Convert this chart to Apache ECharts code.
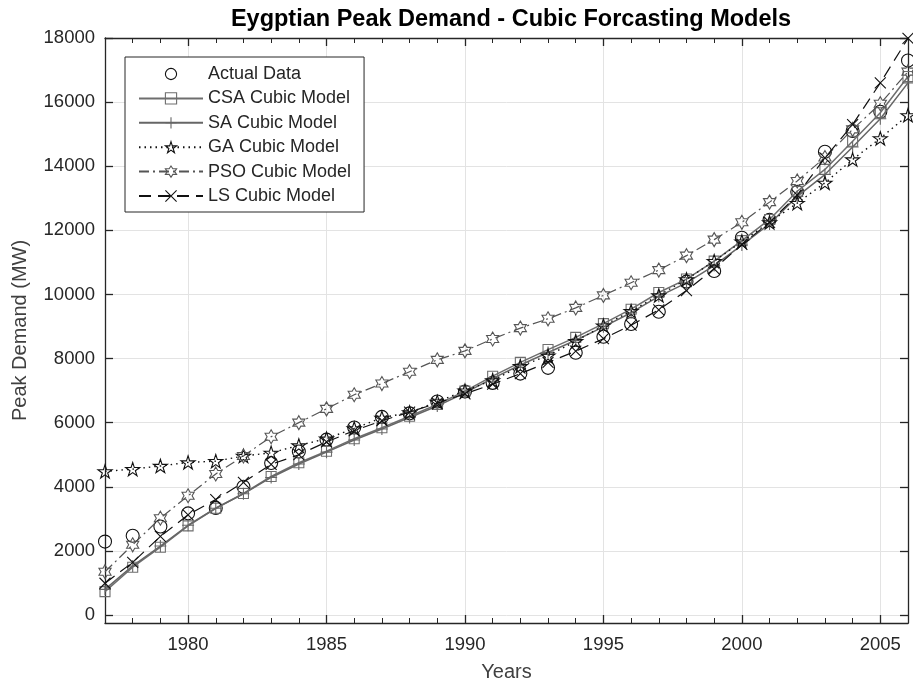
<!DOCTYPE html>
<html>
<head>
<meta charset="utf-8">
<title>Eygptian Peak Demand</title>
<script src="https://cdn.jsdelivr.net/npm/echarts@6/dist/echarts.min.js"></script>
<style>
  html, body { margin: 0; padding: 0; background: #fff; }
  #chart { width: 913px; height: 689px; }
</style>
</head>
<body>
<div id="chart"></div>
<script>
// years on the x axis
var years = [1977, 1978, 1979, 1980, 1981, 1982, 1983, 1984, 1985, 1986,
  1987, 1988, 1989, 1990, 1991, 1992, 1993, 1994, 1995, 1996,
  1997, 1998, 1999, 2000, 2001, 2002, 2003, 2004, 2005, 2006]

// peak demand (MW)
var actualData = [2290, 2470, 2760, 3170, 3340, 4000, 4740, 5100, 5470, 5850,
  6180, 6290, 6660, 6970, 7240, 7530, 7710, 8180, 8680, 9080,
  9460, 10400, 10730, 11770, 12330, 13200, 14450, 15100, 15700, 17300]
var csaModel = [730, 1490, 2115, 2780, 3330, 3790, 4320, 4750, 5110, 5500,
  5840, 6200, 6570, 6985, 7450, 7880, 8280, 8660, 9090, 9540,
  10060, 10480, 11040, 11680, 12340, 13220, 13900, 14780, 15670, 16800]
var saModel = [800, 1530, 2150, 2800, 3330, 3780, 4290, 4710, 5080, 5460,
  5800, 6160, 6520, 6930, 7380, 7800, 8190, 8570, 8990, 9430,
  9940, 10360, 10900, 11540, 12200, 13060, 13740, 14600, 15480, 16600]
var gaModel = [4480, 4550, 4650, 4760, 4800, 4960, 5060, 5290, 5500, 5820,
  6150, 6320, 6650, 7000, 7320, 7760, 8090, 8540, 9030, 9480,
  9970, 10470, 11040, 11650, 12250, 12850, 13480, 14210, 14870, 15590]
var psoModel = [1350, 2190, 3020, 3720, 4400, 4960, 5560, 6000, 6430, 6870,
  7220, 7590, 7960, 8240, 8610, 8950, 9240, 9580, 9970, 10365,
  10760, 11210, 11710, 12250, 12880, 13540, 14270, 15150, 15950, 16950]
var lsModel = [990, 1640, 2450, 3125, 3600, 4140, 4700, 5000, 5400, 5750,
  6060, 6330, 6610, 6900, 7200, 7530, 7880, 8230, 8620, 9040,
  9520, 10120, 10800, 11560, 12250, 13100, 14260, 15300, 16600, 17990]

// tick labels
var xTicks = [1980, 1985, 1990, 1995, 2000, 2005]
var yTicks = [0, 2000, 4000, 6000, 8000, 10000, 12000, 14000, 16000, 18000]

var pentagram = 'path://M50,0L61.23,34.55L97.55,34.55L68.17,55.9L79.39,90.45L50,69.1L20.61,90.45L31.83,55.9L2.45,34.55L38.77,34.55Z'
var hexagram = 'path://M50,0L64.43,25L93.3,25L78.87,50L93.3,75L64.43,75L50,100L35.57,75L6.7,75L21.13,50L6.7,25L35.57,25Z'
var plusMark = 'path://M5,0L5,10M0,5L10,5'
var crossMark = 'path://M0,0L10,10M10,0L0,10'

function pairs(vals) {
  return years.map(function (y, i) { return [y, vals[i]] })
}

var axisColor = '#262626'
var gridColor = '#e3e3e3'
var font = '"Liberation Sans", Arial, Helvetica, sans-serif'
var plain = function (v) { return String(v) }

// major x axis: labels, long ticks, grid; minor x axis: a short tick every year
function xAxisOf(pos, major, labels) {
  var ax = {
    type: 'value',
    position: pos,
    min: 1977,
    max: 2006,
    axisLine: { show: major, onZero: false, lineStyle: { color: axisColor, width: 1.3 } },
    axisTick: major
      ? { show: true, inside: true, length: 8, customValues: xTicks, lineStyle: { color: axisColor, width: 1.3 } }
      : { show: true, inside: true, length: 5, lineStyle: { color: axisColor, width: 1 } },
    axisLabel: labels
      ? { show: true, customValues: xTicks, margin: 12, color: axisColor, fontSize: 18.5, fontFamily: font, formatter: plain }
      : { show: false },
    splitLine: { show: major && labels, lineStyle: { color: gridColor, width: 1 } }
  }
  if (!major) ax.interval = 1
  if (labels) {
    ax.name = 'Years'
    ax.nameLocation = 'middle'
    ax.nameGap = 39
    ax.nameTextStyle = { color: '#404040', fontSize: 20, fontFamily: font }
  }
  return ax
}

function yAxisOf(pos, labels) {
  var ax = {
    type: 'value',
    position: pos,
    min: -250,
    max: 18000,
    axisLine: { show: true, onZero: false, lineStyle: { color: axisColor, width: 1.3 } },
    axisTick: { show: true, inside: true, length: 8, customValues: yTicks, lineStyle: { color: axisColor, width: 1.3 } },
    axisLabel: labels
      ? { show: true, customValues: yTicks, margin: 10, color: axisColor, fontSize: 18.5, fontFamily: font, formatter: plain }
      : { show: false },
    splitLine: { show: labels, lineStyle: { color: gridColor, width: 1 } }
  }
  if (labels) {
    ax.name = 'Peak Demand (MW)'
    ax.nameLocation = 'middle'
    ax.nameGap = 75
    ax.nameTextStyle = { color: '#404040', fontSize: 20, fontFamily: font }
  }
  return ax
}

function lineSeries(name, vals, color, symbol, size, lineStyle, z) {
  return {
    name: name,
    type: 'line',
    data: pairs(vals),
    color: color,
    symbol: symbol,
    symbolSize: size,
    symbolKeepAspect: true,
    showSymbol: true,
    z: z,
    itemStyle: { color: 'rgba(0,0,0,0)', borderColor: color, borderWidth: 1.1 },
    lineStyle: lineStyle,
    emphasis: { disabled: true }
  }
}

var chart = echarts.init(document.getElementById('chart'))
chart.setOption({
  animation: false,
  backgroundColor: '#fff',
  title: {
    text: 'Eygptian Peak Demand - Cubic Forcasting Models',
    left: 506,
    textAlign: 'center',
    top: 3,
    textStyle: { color: '#000', fontSize: 23.5, fontWeight: 'bold', fontFamily: font }
  },
  grid: { left: 105, right: 5, top: 38, bottom: 66 },
  legend: {
    orient: 'vertical',
    left: 125,
    top: 57,
    padding: [8, 13, 7, 13],
    itemWidth: 64,
    itemHeight: 14,
    itemGap: 6.4,
    backgroundColor: '#fff',
    borderColor: axisColor,
    borderWidth: 1,
    borderRadius: 0,
    itemStyle: { borderWidth: 1.1 },
    textStyle: { color: axisColor, fontSize: 18, fontFamily: font, lineHeight: 18 },
    data: ['Actual Data', 'CSA Cubic Model', 'SA Cubic Model', 'GA Cubic Model', 'PSO Cubic Model', 'LS Cubic Model']
  },
  xAxis: [
    xAxisOf('bottom', true, true),
    xAxisOf('bottom', false, false),
    xAxisOf('top', true, false),
    xAxisOf('top', false, false)
  ],
  yAxis: [
    yAxisOf('left', true),
    yAxisOf('right', false)
  ],
  series: [
    lineSeries('Actual Data', actualData, '#111', 'circle', 13, { opacity: 0, width: 0 }, 2),
    lineSeries('CSA Cubic Model', csaModel, '#6e6e6e', 'rect', 10, { color: '#6e6e6e', width: 1.5 }, 3),
    lineSeries('SA Cubic Model', saModel, '#666', plusMark, 12, { color: '#666', width: 1.5 }, 3),
    lineSeries('GA Cubic Model', gaModel, '#111', pentagram, 14, { color: '#111', width: 1.4, type: [1.5, 4] }, 4),
    lineSeries('PSO Cubic Model', psoModel, '#555', hexagram, 14, { color: '#555', width: 1.2, type: [10, 4, 2, 4] }, 4),
    lineSeries('LS Cubic Model', lsModel, '#111', crossMark, 11, { color: '#111', width: 1.2, type: [12, 7] }, 5)
  ]
})
</script>
</body>
</html>
